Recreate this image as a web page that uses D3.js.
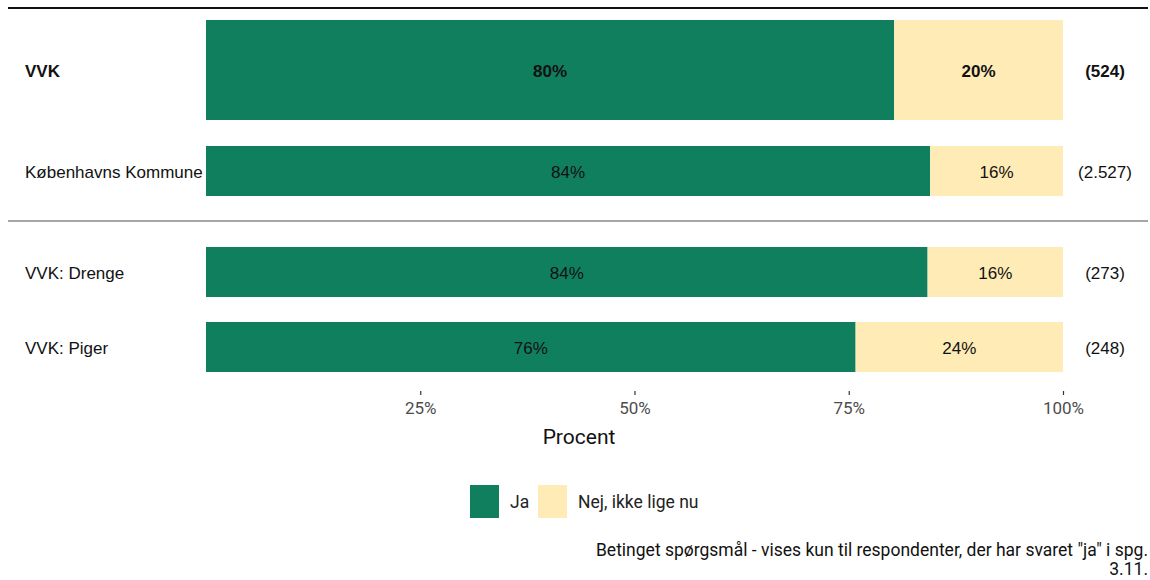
<!DOCTYPE html>
<html><head><meta charset="utf-8">
<script src="https://cdn.jsdelivr.net/npm/d3@7"></script>
<style>body{margin:0;background:#fff}</style>
</head><body>
<svg id="c" width="1150" height="580"></svg>
<script>
const categories = ["VVK", "Københavns Kommune", "VVK: Drenge", "VVK: Piger"];
const jaValues = [80.3, 84.5, 84.2, 75.8];
const nejValues = [19.7, 15.5, 15.8, 24.2];
const jaLabels = ["80%", "84%", "84%", "76%"];
const nejLabels = ["20%", "16%", "16%", "24%"];
const nLabels = ["(524)", "(2.527)", "(273)", "(248)"];
const boldRows = [true, false, false, false];
const seriesNames = ["Ja", "Nej, ikke lige nu"];
const tickValues = [25, 50, 75, 100];
const tickLabels = ["25%", "50%", "75%", "100%"];

const colors = {ja: "#107F5E", nej: "#FEEBB6"};
const svg = d3.select("#c");
const x = d3.scaleLinear().domain([0, 100]).range([206, 1063]);
const rowTop = [20, 146, 247, 322];
const rowH = [100, 50, 50, 50];

// rules
svg.append("line").attr("x1", 8).attr("x2", 1148).attr("y1", 8).attr("y2", 8)
  .attr("stroke", "#111").attr("stroke-width", 2);
svg.append("line").attr("x1", 8).attr("x2", 1148).attr("y1", 221).attr("y2", 221)
  .attr("stroke", "#a6a6a6").attr("stroke-width", 2);

const rows = categories.map((c, i) => ({c, i, ja: jaValues[i], nej: nejValues[i]}));
const g = svg.selectAll("g.row").data(rows).join("g").attr("class", "row");
g.append("rect").attr("x", x(0)).attr("y", d => rowTop[d.i])
  .attr("width", d => x(d.ja) - x(0)).attr("height", d => rowH[d.i]).attr("fill", colors.ja);
g.append("rect").attr("x", d => x(d.ja)).attr("y", d => rowTop[d.i])
  .attr("width", d => x(d.ja + d.nej) - x(d.ja)).attr("height", d => rowH[d.i]).attr("fill", colors.nej);

const font = "'Liberation Sans', Arial, sans-serif";
const txt = (sel) => sel.attr("font-family", font).attr("font-size", 17).attr("fill", "#111")
  .attr("dominant-baseline", "central")
  .attr("font-weight", d => boldRows[d.i] ? "bold" : "normal");
g.append("text").attr("x", d => (x(0) + x(d.ja)) / 2).attr("y", d => rowTop[d.i] + rowH[d.i] / 2 + 1)
  .attr("text-anchor", "middle").text(d => jaLabels[d.i]).call(txt);
g.append("text").attr("x", d => (x(d.ja) + x(d.ja + d.nej)) / 2).attr("y", d => rowTop[d.i] + rowH[d.i] / 2 + 1)
  .attr("text-anchor", "middle").text(d => nejLabels[d.i]).call(txt);
g.append("text").attr("x", 25).attr("y", d => rowTop[d.i] + rowH[d.i] / 2 + 1)
  .attr("text-anchor", "start").text(d => d.c).call(txt);
g.append("text").attr("x", 1105).attr("y", d => rowTop[d.i] + rowH[d.i] / 2 + 1)
  .attr("text-anchor", "middle").text(d => nLabels[d.i]).call(txt);

// axis
const axis = d3.axisBottom(x).tickValues(tickValues).tickFormat((d, i) => tickLabels[i]).tickSize(4).tickPadding(7);
const ax = svg.append("g").attr("transform", "translate(0,391)").call(axis);
ax.select(".domain").remove();
ax.selectAll(".tick line").attr("stroke", "#333").attr("stroke-width", 1.2);
ax.selectAll(".tick text").attr("font-family", "Roboto, sans-serif").attr("font-size", 17)
  .attr("fill", "#4d4d4d");
svg.append("text").attr("x", 579).attr("y", 437).attr("text-anchor", "middle")
  .attr("dominant-baseline", "central").attr("font-family", "Roboto, sans-serif")
  .attr("font-size", 21).attr("fill", "#111").text("Procent");

// legend
const leg = [{n: seriesNames[0], c: colors.ja, x: 470, tx: 510}, {n: seriesNames[1], c: colors.nej, x: 538, tx: 578}];
const lg = svg.selectAll("g.leg").data(leg).join("g").attr("class", "leg");
lg.append("rect").attr("x", d => d.x).attr("y", 485).attr("width", 29).attr("height", 33).attr("fill", d => d.c);
lg.append("text").attr("x", d => d.tx).attr("y", 502).attr("dominant-baseline", "central")
  .attr("font-family", "Roboto, sans-serif").attr("font-size", 17.5).attr("fill", "#222").text(d => d.n);

// footnote
const foot = ["Betinget spørgsmål - vises kun til respondenter, der har svaret \"ja\" i spg.", "3.11."];
svg.selectAll("text.foot").data(foot).join("text").attr("class", "foot")
  .attr("x", 1148).attr("y", (d, i) => 550 + i * 19).attr("text-anchor", "end")
  .attr("dominant-baseline", "central").attr("font-family", "Roboto, sans-serif")
  .attr("font-size", 17.5).attr("fill", "#111").text(d => d);
</script>
</body></html>
